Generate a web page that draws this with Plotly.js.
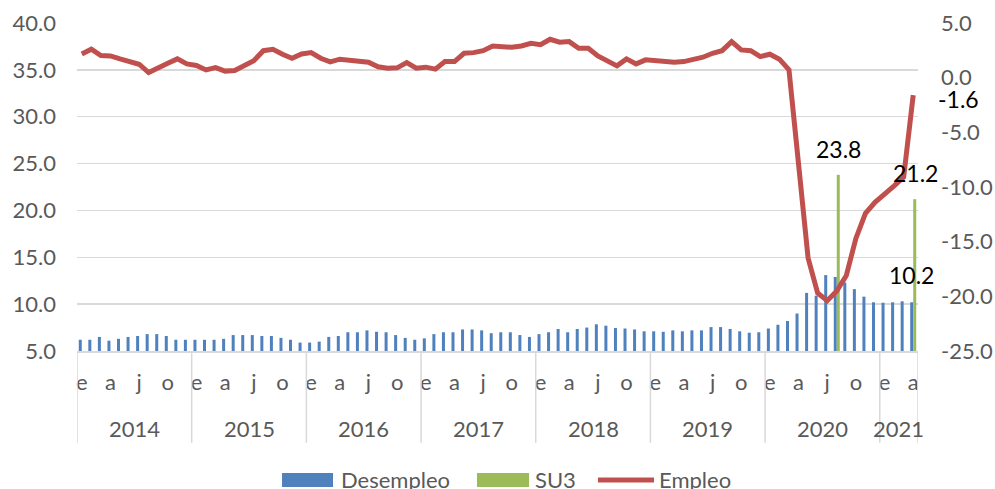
<!DOCTYPE html>
<html><head><meta charset="utf-8">
<script src="https://cdn.plot.ly/plotly-3.0.1.min.js"></script>
<style>html,body{margin:0;padding:0;background:#fff}#chart{width:995px;height:489px}</style>
</head><body><div id="chart"></div>
<script>
// ---- Data ----
const years = ['2014','2015','2016','2017','2018','2019','2020','2021'];
const monthInitials = ['e','f','m','a','m','j','j','a','s','o','n','d'];
const labeledMonths = [0, 3, 6, 9];

const desempleo = [
  6.2, 6.2, 6.5, 6.1, 6.3, 6.5, 6.6, 6.8, 6.8, 6.6, 6.2, 6.2,
  6.2, 6.2, 6.2, 6.3, 6.7, 6.7, 6.7, 6.6, 6.6, 6.4, 6.2, 5.9,
  5.9, 6.0, 6.5, 6.6, 7.0, 7.0, 7.2, 7.05, 7.0, 6.7, 6.4, 6.2,
  6.35, 6.8, 7.0, 7.0, 7.3, 7.3, 7.2, 6.9, 7.0, 7.0, 6.7, 6.5,
  6.8, 7.0, 7.35, 7.0, 7.35, 7.5, 7.85, 7.7, 7.45, 7.4, 7.3, 7.1,
  7.1, 7.05, 7.2, 7.1, 7.2, 7.2, 7.55, 7.55, 7.35, 7.1, 6.95, 7.0,
  7.4, 7.8, 8.2, 9.0, 11.2, 10.9, 13.1, 12.9, 12.3, 11.6, 10.8, 10.2,
  10.15, 10.2, 10.3, 10.2
];

const su3 = [
  null,null,null,null,null,null,null,null,null,null,null,null,
  null,null,null,null,null,null,null,null,null,null,null,null,
  null,null,null,null,null,null,null,null,null,null,null,null,
  null,null,null,null,null,null,null,null,null,null,null,null,
  null,null,null,null,null,null,null,null,null,null,null,null,
  null,null,null,null,null,null,null,null,null,null,null,null,
  null,null,null,null,null,null,null,23.8,null,null,null,null,
  null,null,null,21.2
];

const empleo = [
  2.17, 2.6, 2.02, 1.99, 1.72, 1.44, 1.23, 0.47, 0.96, 1.32, 1.72, 1.26,
  1.11, 0.71, 0.92, 0.6, 0.65, 1.11, 1.56, 2.47, 2.6, 2.14, 1.78, 2.17,
  2.29, 1.78, 1.44, 1.69, 1.63, 1.47, 1.42, 0.99, 0.87, 0.9, 1.38, 0.87,
  0.96, 0.78, 1.47, 1.47, 2.23, 2.29, 2.47, 2.9, 2.84, 2.78, 2.9, 3.14,
  3.02, 3.51, 3.24, 3.3, 2.69, 2.69, 1.99, 1.53, 1.08, 1.72, 1.26, 1.63,
  1.53, 1.42, 1.42, 1.47, 1.69, 1.87, 2.23, 2.47, 3.3, 2.54, 2.47, 1.93,
  2.14, 1.69, 0.71, -8.0, -16.5, -19.7, -20.4, -19.5, -18.1, -14.7, -12.4, -11.4,
  -10.7, -9.9, -9.1, -1.6
];

const leftTicks = [5, 10, 15, 20, 25, 30, 35, 40];
const rightTicks = [-25, -20, -15, -10, -5, 0, 5];

const seriesNames = ['Desempleo', 'SU3', 'Empleo'];
const seriesColors = ['#4F81BD', '#9BBB59', '#C0504D'];

// ---- Derived positions ----
const n = desempleo.length;
const xs = desempleo.map((_, i) => i);
const tickvals = [], ticktext = [];
xs.forEach(i => { const m = i % 12; if (labeledMonths.includes(m)) { tickvals.push(i); ticktext.push(monthInitials[m]); } });

const FONT = 'Lato, "Open Sans", sans-serif';
const GRAY = '#595959';
const GRID = '#D9D9D9';

const traces = [
  { type: 'bar', name: seriesNames[0], x: xs, y: desempleo, marker: { color: seriesColors[0] }, yaxis: 'y', hoverinfo: 'skip' },
  { type: 'bar', name: seriesNames[1], x: xs, y: su3, marker: { color: seriesColors[1] }, yaxis: 'y', hoverinfo: 'skip' },
  { type: 'scatter', mode: 'lines', name: seriesNames[2], x: xs, y: empleo, yaxis: 'y2',
    line: { color: seriesColors[2], width: 5, shape: 'linear' }, hoverinfo: 'skip' }
];

const annotations = [];
const shapes = [];

// year labels & separators
years.forEach((yr, k) => {
  const start = k * 12;
  const end = Math.min(start + 11, n - 1);
  annotations.push({ x: (start + end) / 2, y: -0.235, xref: 'x', yref: 'paper', text: yr, showarrow: false,
    font: { family: FONT, size: 22, color: GRAY }, yanchor: 'middle' });
  shapes.push({ type: 'line', xref: 'x', yref: 'paper', x0: start - 0.5, x1: start - 0.5, y0: 0, y1: -0.28,
    line: { color: GRID, width: 1.5 } });
});
shapes.push({ type: 'line', xref: 'x', yref: 'paper', x0: n - 0.5, x1: n - 0.5, y0: 0, y1: -0.28, line: { color: GRID, width: 1.5 } });

// data labels
const last = n - 1;
su3.forEach((v, i) => {
  if (v !== null) annotations.push({ x: i, y: v, xref: 'x', yref: 'y', text: v.toFixed(1), showarrow: false,
    font: { family: FONT, size: 23, color: '#000' }, yanchor: 'middle', yshift: 26, xshift: 2 });
});
annotations.push({ x: last, y: desempleo[last], xref: 'x', yref: 'y', text: desempleo[last].toFixed(1), showarrow: false,
  font: { family: FONT, size: 23, color: '#000' }, yanchor: 'middle', yshift: 27, xshift: -1.5 });
annotations.push({ x: last, y: empleo[last], xref: 'x', yref: 'y2', text: empleo[last].toFixed(1), showarrow: false,
  font: { family: FONT, size: 23, color: '#000' }, xanchor: 'left', yanchor: 'middle', xshift: 23, yshift: -4 });

// legend (drawn manually to match wide swatches)
const legY = -0.393;
const legItems = [
  { kind: 'rect', x0: 0.2438, x1: 0.3044, tx: 0.3115 },
  { kind: 'rect', x0: 0.4756, x1: 0.5375, tx: 0.5422 },
  { kind: 'line', x0: 0.6195, x1: 0.6861, tx: 0.6896 }
];
legItems.forEach((it, k) => {
  if (it.kind === 'rect') {
    shapes.push({ type: 'rect', xref: 'paper', yref: 'paper', x0: it.x0, x1: it.x1, y0: -0.4146, y1: -0.372,
      fillcolor: seriesColors[k], line: { width: 0 } });
  } else {
    shapes.push({ type: 'line', xref: 'paper', yref: 'paper', x0: it.x0, x1: it.x1, y0: legY, y1: legY,
      line: { color: seriesColors[k], width: 5 } });
  }
  annotations.push({ x: it.tx, y: legY, xref: 'paper', yref: 'paper', text: seriesNames[k], showarrow: false,
    xanchor: 'left', yanchor: 'middle', font: { family: FONT, size: 22, color: GRAY } });
});

const layout = {
  width: 995, height: 489,
  margin: { l: 77, r: 77, t: 23, b: 138, autoexpand: false },
  paper_bgcolor: '#fff', plot_bgcolor: '#fff',
  font: { family: FONT, size: 22, color: GRAY },
  barmode: 'group', bargap: 0.37, bargroupgap: 0,
  showlegend: false,
  xaxis: { range: [-0.5, n - 0.5], tickmode: 'array', tickvals: tickvals, ticktext: ticktext,
    showgrid: false, zeroline: false, showline: true, linecolor: GRID, linewidth: 1.5, ticks: '',
    tickfont: { family: FONT, size: 22, color: GRAY }, ticklabelstandoff: 11, fixedrange: true },
  yaxis: { range: [5, 40], tickmode: 'array', tickvals: leftTicks, ticktext: leftTicks.map(v => v.toFixed(1)),
    showgrid: true, gridcolor: GRID, gridwidth: 1.5, zeroline: false, showline: false, ticks: '',
    tickfont: { family: FONT, size: 22, color: GRAY }, ticklabelstandoff: 20, fixedrange: true },
  yaxis2: { range: [-25, 5], overlaying: 'y', side: 'right', tickmode: 'array', tickvals: rightTicks,
    ticktext: rightTicks.map(v => v.toFixed(1)), showgrid: false, zeroline: false, showline: false, ticks: '',
    tickfont: { family: FONT, size: 22, color: GRAY }, ticklabelstandoff: 22, fixedrange: true },
  annotations: annotations,
  shapes: shapes
};

Plotly.newPlot('chart', traces, layout, { displayModeBar: false, staticPlot: true });
</script>
</body></html>
